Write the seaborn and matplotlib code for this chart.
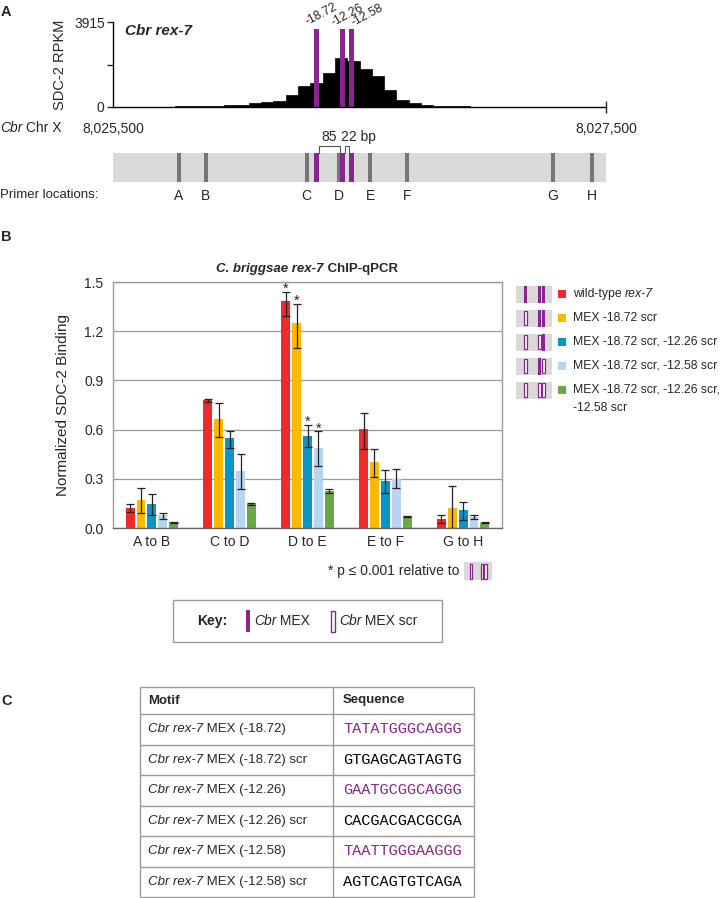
import numpy as np
import pandas as pd
import matplotlib
matplotlib.use("Agg")
import matplotlib.pyplot as plt
from matplotlib.patches import Rectangle
import seaborn as sns

# ---- panel A: SDC-2 ChIP-seq signal over Cbr rex-7 (50 bp bins)
region_start = 8025500
region_end = 8027500
bin_size = 50
rpkm_max = 3915
rpkm = [5, 8, 12, 15, 20, 28, 35, 42, 55, 70, 90, 200, 230, 260,
        566, 979, 1101, 1560, 2248, 2140, 1743, 1437, 795, 336,
        183, 107, 61, 31, 25, 20, 16, 13, 10, 8, 6, 5, 4, 3, 2, 1]
motif_names = ["-18.72", "-12.26", "-12.58"]
motif_centers = [8026326, 8026431, 8026466]
motif_gap_labels = ["85", "22 bp"]
primer_names = ["A", "B", "C", "D", "E", "F", "G", "H"]
primer_pos = [8025768, 8025877, 8026286, 8026415, 8026544, 8026692, 8027284, 8027442]

# ---- panel B: ChIP-qPCR
groups = ["A to B", "C to D", "D to E", "E to F", "G to H"]
constructs = ["wild-type rex-7", "MEX -18.72 scr", "MEX -18.72 scr, -12.26 scr",
              "MEX -18.72 scr, -12.58 scr", "MEX -18.72 scr, -12.26 scr, -12.58 scr"]
bar_colors = ["#EE2A2A", "#FFB800", "#0A94C8", "#B9D4F2", "#6AA845"]
wt_mean = [0.122, 0.780, 1.382, 0.601, 0.057]
wt_lo = [0.096, 0.770, 1.293, 0.483, 0.031]
wt_hi = [0.147, 0.786, 1.441, 0.703, 0.078]
s1_mean = [0.173, 0.662, 1.248, 0.402, 0.122]
s1_lo = [0.092, 0.556, 1.097, 0.312, 0.000]
s1_hi = [0.245, 0.764, 1.368, 0.479, 0.255]
s12_mean = [0.147, 0.546, 0.564, 0.288, 0.112]
s12_lo = [0.082, 0.487, 0.495, 0.215, 0.051]
s12_hi = [0.208, 0.593, 0.630, 0.353, 0.161]
s13_mean = [0.082, 0.345, 0.485, 0.300, 0.067]
s13_lo = [0.057, 0.237, 0.381, 0.243, 0.057]
s13_hi = [0.092, 0.452, 0.591, 0.361, 0.078]
s123_mean = [0.035, 0.147, 0.227, 0.071, 0.031]
s123_lo = [0.031, 0.139, 0.214, 0.067, 0.028]
s123_hi = [0.038, 0.154, 0.240, 0.075, 0.034]
starred = [("D to E", 0), ("D to E", 1), ("D to E", 2), ("D to E", 3)]
scr_pattern = [(0, 0, 0), (1, 0, 0), (1, 1, 0), (1, 0, 1), (1, 1, 1)]

# ---- panel C: motif sequences
motif_labels = ["(-18.72)", "(-18.72) scr", "(-12.26)", "(-12.26) scr", "(-12.58)", "(-12.58) scr"]
sequences = ["TATATGGGCAGGG", "GTGAGCAGTAGTG", "GAATGCGGCAGGG",
             "CACGACGACGCGA", "TAATTGGGAAGGG", "AGTCAGTGTCAGA"]
seq_scrambled = [False, True, False, True, False, True]

purple = "#8C248F"
gray_line = "#9a9a9a"

sns.set_style("white")
plt.rcParams["font.family"] = ["Liberation Sans", "DejaVu Sans"]

W, H = 721, 898
fig = plt.figure(figsize=(W / 100, H / 100), dpi=100)


def frac(x0, y0, x1, y1):
    return [x0 / W, 1 - y1 / H, (x1 - x0) / W, (y1 - y0) / H]


def rich(ax, x, y, parts, size=9.5, va="baseline", ha="left"):
    # chain text pieces with different styles on one baseline
    texts = [ax.text(x, y, parts[0][0], fontsize=size, va=va, **parts[0][1])]
    for s, kw in parts[1:]:
        texts.append(ax.annotate(s, xy=(1, 0), xycoords=texts[-1], va="bottom",
                                 fontsize=size, **kw))
    if ha == "center":
        r = fig.canvas.get_renderer()
        w = sum(t.get_window_extent(r).width for t in texts)
        texts[0].set_x(x - w / 2)
    return texts


ITAL = {"style": "italic"}
BOLD = {"weight": "bold"}
BI = {"style": "italic", "weight": "bold"}

# ================= panel A histogram =================
hist_df = pd.DataFrame({"pos": np.arange(region_start, region_end, bin_size) + bin_size / 2,
                        "rpkm": rpkm})
ax_h = fig.add_axes(frac(113, 22, 606, 107))
sns.histplot(data=hist_df, x="pos", weights="rpkm", binwidth=bin_size,
             binrange=(region_start, region_end), element="step", fill=True,
             color="black", alpha=1, linewidth=0.5, ax=ax_h)
for c in motif_centers:
    ax_h.axvspan(c - 10, c + 10, ymin=0, ymax=0.915, color=purple, lw=0)
# hand-placed label offsets (points), as in the original figure
label_offsets = [(-6.5, 3), (-6.5, 2.5), (1.5, 2)]
for c, name, off in zip(motif_centers, motif_names, label_offsets):
    ax_h.annotate(name, xy=(c, rpkm_max * 0.915), xytext=off, textcoords="offset points",
                  rotation=28, rotation_mode="anchor", ha="left", va="baseline",
                  fontsize=8.8, annotation_clip=False)
ax_h.set_xlim(region_start, region_end)
ax_h.set_ylim(0, rpkm_max)
ax_h.set_yticks([0, rpkm_max / 2, rpkm_max], ["0", "", str(rpkm_max)])
ax_h.tick_params(axis="y", direction="out", length=4, width=1, labelsize=10, pad=2, left=True)
ax_h.set_xticks([region_start, region_end], [f"{region_start:,}", f"{region_end:,}"])
ax_h.tick_params(axis="x", direction="inout", length=8, width=1, labelsize=10, pad=7, bottom=True)
ax_h.xaxis.get_major_ticks()[0].tick1line.set_visible(False)
ax_h.spines[["top", "right"]].set_visible(False)
for s in ["left", "bottom"]:
    ax_h.spines[s].set_color("black")
    ax_h.spines[s].set_linewidth(1)
ax_h.set_xlabel("")
ax_h.set_ylabel("SDC-2 RPKM", fontsize=10.5)
ax_h.yaxis.set_label_coords(-0.094, 0.5)

# ================= panel A track =================
ax_t = fig.add_axes(frac(113, 153, 606, 182))
ax_t.set_facecolor("#D9D9D9")
for p in primer_pos:
    ax_t.axvspan(p - 8, p + 8, color="#767676", lw=0)
for c in motif_centers:
    ax_t.axvspan(c - 10, c + 10, color=purple, lw=0)
ax_t.set_xlim(region_start, region_end)
ax_t.set_ylim(0, 1)
ax_t.set_xticks(primer_pos, primer_names)
ax_t.set_yticks([])
ax_t.tick_params(axis="x", length=0, labelsize=10, pad=5)
for s in ax_t.spines.values():
    s.set_visible(False)
for (a, b), lab in zip([(0, 1), (1, 2)], motif_gap_labels):
    x0 = motif_centers[a] + 10
    x1 = motif_centers[b] - 10
    ax_t.plot([x0, x0, x1, x1], [1.0, 1.25, 1.25, 1.0], color="#555555", lw=0.8, clip_on=False)
    if lab == "85":
        ax_t.annotate(lab, xy=((x0 + x1) / 2, 1.25), xytext=(0, 1), textcoords="offset points",
                      ha="center", va="bottom", fontsize=10, annotation_clip=False)
    else:
        ax_t.annotate(lab, xy=((x0 + x1) / 2, 1.25), xytext=(-4, 1), textcoords="offset points",
                      ha="left", va="bottom", fontsize=10, annotation_clip=False)

# ================= panel B bars =================
means = [wt_mean, s1_mean, s12_mean, s13_mean, s123_mean]
lows = [wt_lo, s1_lo, s12_lo, s13_lo, s123_lo]
highs = [wt_hi, s1_hi, s12_hi, s13_hi, s123_hi]
rows = []
for ci, c in enumerate(constructs):
    for gi, g in enumerate(groups):
        rows.append({"group": g, "construct": c, "mean": means[ci][gi],
                     "lo": lows[ci][gi], "hi": highs[ci][gi]})
df = pd.DataFrame(rows)

ax_b = fig.add_axes(frac(113, 282, 502, 528))
sns.barplot(data=df, x="group", y="mean", hue="construct", order=groups, hue_order=constructs,
            palette=bar_colors, errorbar=None, width=0.7, gap=0.18, saturation=1,
            legend=False, linewidth=0, ax=ax_b)
n = len(constructs)
slot = 0.7 / n
for _, r in df.iterrows():
    gi = groups.index(r["group"])
    ci = constructs.index(r["construct"])
    x = gi + (ci - (n - 1) / 2) * slot
    ax_b.errorbar(x, r["mean"], yerr=[[r["mean"] - r["lo"]], [r["hi"] - r["mean"]]],
                  fmt="none", ecolor="#222222", elinewidth=0.9, capsize=2.6, capthick=0.9)
    if (r["group"], ci) in starred:
        ax_b.annotate("*", xy=(x, r["hi"]), xytext=(0, -1.0), textcoords="offset points",
                      ha="center", va="baseline", fontsize=10.5)
ax_b.set_ylim(0, 1.5)
ax_b.set_xlim(-0.5, len(groups) - 0.5)
yt = np.arange(0, 1.51, 0.3)
ax_b.set_yticks(yt, [f"{v:.1f}" for v in yt])
ax_b.yaxis.grid(True, color=gray_line, lw=0.9)
ax_b.set_axisbelow(True)
ax_b.tick_params(axis="both", length=0, labelsize=10)
ax_b.tick_params(axis="y", pad=7)
ax_b.tick_params(axis="x", pad=5)
for s in ax_b.spines.values():
    s.set_color(gray_line)
    s.set_linewidth(1)
ax_b.spines["bottom"].set_color("#666666")
ax_b.set_xlabel("")
ax_b.set_ylabel("Normalized SDC-2 Binding", fontsize=11)
ax_b.yaxis.set_label_coords(-0.11, 0.5)

# ================= panel C table =================
row_edges = [0] + [27 + 30.5 * i for i in range(len(sequences) + 1)]
ax_tab = fig.add_axes(frac(140, 687, 474, 897))
ax_tab.set_xlim(0, 334)
ax_tab.set_ylim(row_edges[-1], 0)
ax_tab.axis("off")
ax_tab.hlines(row_edges, 0, 334, color=gray_line, lw=1, clip_on=False)
ax_tab.vlines([0, 193, 334], 0, row_edges[-1], color=gray_line, lw=1, clip_on=False)
ax_tab.text(8, row_edges[1] / 2, "Motif", fontsize=9.5, weight="bold", va="center")
ax_tab.text(203, row_edges[1] / 2, "Sequence", fontsize=9.5, weight="bold", va="center")
for i, (lab, seq, scr) in enumerate(zip(motif_labels, sequences, seq_scrambled)):
    yc = (row_edges[i + 1] + row_edges[i + 2]) / 2
    rich(ax_tab, 8, yc, [("Cbr rex-7", ITAL), (" MEX " + lab, {})], size=9.5, va="center")
    ax_tab.text(203, yc, seq, fontsize=11, family=["Liberation Mono", "DejaVu Sans Mono"],
                color="black" if scr else purple, va="center")

# ================= overlay: labels, legend, key =================
ax0 = fig.add_axes([0, 0, 1, 1])
ax0.set_xlim(0, W)
ax0.set_ylim(H, 0)
ax0.axis("off")

for letter, y in [("A", 12), ("B", 237), ("C", 701)]:
    ax0.text(1, y, letter, fontsize=10.5, weight="bold", va="center")

ax0.text(125, 35, "Cbr rex-7", fontsize=11, **BI)
rich(ax0, 0, 132, [("Cbr", ITAL), (" Chr X", {})], size=10)
ax0.text(0, 195, "Primer locations:", fontsize=9.5, va="center")

rich(ax0, 307, 272, [("C. briggsae rex-7", BI), (" ChIP-qPCR", BOLD)], size=9.5, ha="center")


def motif_glyph(x0, yc, pattern, w=36, h=17):
    sc = w / 36
    ax0.add_patch(Rectangle((x0, yc - h / 2), w, h, fc="#D9D9D9", lw=0))
    for off, scr in zip([8, 22, 26.3], pattern):
        mx = x0 + off * sc
        if scr:
            ax0.add_patch(Rectangle((mx, yc - h / 2 + 1.5), 2.8 * sc, h - 3, fc="white",
                                    ec=purple, lw=0.9))
        else:
            ax0.add_patch(Rectangle((mx, yc - h / 2), 2.8 * sc, h, fc=purple, lw=0))


for i, (c, col, pat) in enumerate(zip(constructs, bar_colors, scr_pattern)):
    yc = 294 + 24 * i
    motif_glyph(516, yc, pat)
    ax0.add_patch(Rectangle((558, yc - 4), 8, 8, fc=col, lw=0))
    if i == 0:
        rich(ax0, 573, yc, [("wild-type ", {}), ("rex-7", ITAL)], size=8.8, va="center")
    elif i == n - 1:
        ax0.text(573, yc, "MEX -18.72 scr, -12.26 scr,", fontsize=8.8, va="center")
        ax0.text(573, yc + 18, "-12.58 scr", fontsize=8.8, va="center")
    else:
        ax0.text(573, yc, c, fontsize=8.8, va="center")

ax0.text(459, 571, "* p \u2264 0.001 relative to", fontsize=10, ha="right", va="center")
motif_glyph(464, 571, scr_pattern[-1], w=28, h=18)

ax0.add_patch(Rectangle((173, 600), 269, 42, fc="white", ec=gray_line, lw=1))
ax0.text(197, 621, "Key:", fontsize=10, weight="bold", va="center")
ax0.add_patch(Rectangle((246, 610), 3.5, 22, fc=purple, lw=0))
rich(ax0, 254, 621, [("Cbr", ITAL), (" MEX", {})], size=10, va="center")
ax0.add_patch(Rectangle((331, 610.5), 3.5, 21, fc="white", ec=purple, lw=1))
rich(ax0, 339, 621, [("Cbr", ITAL), (" MEX scr", {})], size=10, va="center")

fig.savefig("out.png", dpi=100)
